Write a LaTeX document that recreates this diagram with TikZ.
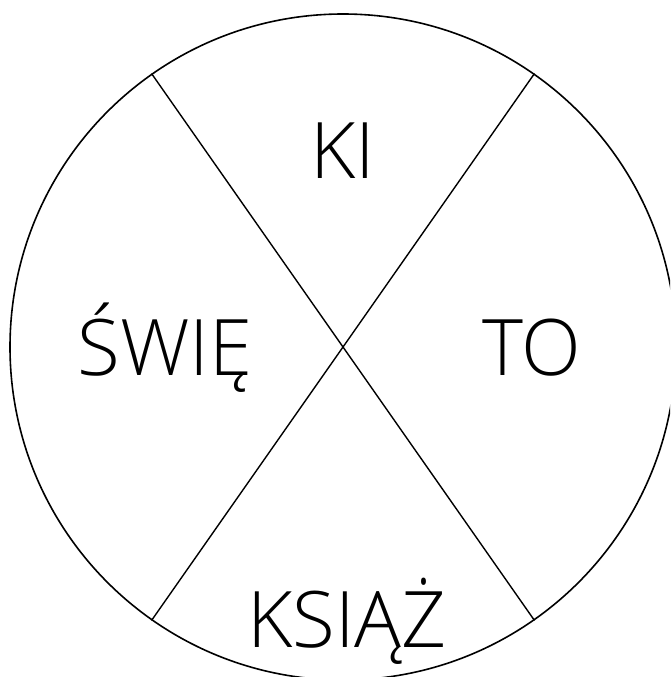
\documentclass[tikz,border=0pt]{standalone}
\usepackage{fontspec}
\IfFontExistsTF{Open Sans Light}{\setmainfont{Open Sans Light}}{\setmainfont{Open Sans}}
\begin{document}
\begin{tikzpicture}[x=1pt,y=-1pt,
  ring/.style={circle,draw,line width=1.6pt,minimum size=666pt,inner sep=0pt},
  divider/.style={line width=1.4pt},
  word/.style={font=\fontsize{78}{78}\selectfont,inner sep=0pt,anchor=base}]
\useasboundingbox (0,0) rectangle (670,677);
\clip (0,0) rectangle (670,677);
\node[ring] (c) at (343,347) {};
\draw[divider] (c.55) -- (c.235);
\draw[divider] (c.125) -- (c.305);
\node[word] (ki) at (343,178) {KI};
\node[word] (to) at (532,375) {TO};
\node[word] (swie) at (165,375) {ŚWIĘ};
\node[word] (ksiaz) at (347,647) {KSIĄŻ};
\end{tikzpicture}
\end{document}
